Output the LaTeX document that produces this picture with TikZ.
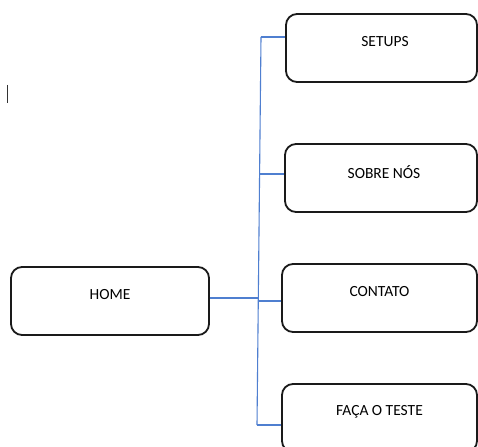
\documentclass[tikz,border=0pt]{standalone}
\usepackage{fontspec}
\setmainfont{Carlito}
\definecolor{linkblue}{HTML}{4F7FD0}
\definecolor{boxline}{HTML}{1A1A1A}
\begin{document}
\begin{tikzpicture}[x=1pt,y=-1pt,
  menubox/.style={draw=boxline,line width=1.8pt,rounded corners=11pt,inner sep=0pt,
    minimum height=68pt},
  label/.style={font=\fontsize{15.5}{18}\selectfont,inner sep=0pt,anchor=center},
  link/.style={draw=linkblue,line width=1.1pt}]
\useasboundingbox (0,0) rectangle (478,446);
\clip (0,0) rectangle (478,446);
\fill[white] (0,0) rectangle (478,446);

% pages
\node[menubox,minimum width=198pt] (home) at (110,301) {};
\node[menubox,minimum width=191pt] (setups) at (381.5,48) {};
\node[menubox,minimum width=192pt] (sobre) at (381,178) {};
\node[menubox,minimum width=195pt] (contato) at (379.5,298) {};
\node[menubox,minimum width=195pt] (teste) at (379.5,418) {};

% captions, set a little above centre
\node[label] (homet) at ([yshift=6pt]home.center) {HOME};
\node[label] (setupst) at ([xshift=3.5pt,yshift=6pt]setups.center) {SETUPS};
\node[label] (sobret) at ([xshift=3pt,yshift=6pt]sobre.center) {SOBRE NÓS};
\node[label] (contatot) at ([yshift=6pt]contato.center) {CONTATO};
\node[label] (testet) at ([yshift=6pt]teste.center) {FAÇA O TESTE};

% tree of links
\coordinate (trunktop) at (261,37);
\coordinate (trunkbot) at (257,425);
\coordinate (jsobre) at (259.2,174);
\coordinate (jhome) at (258.2,298);
\coordinate (jcontato) at (258.1,301);
\draw[link] (trunktop) -- (trunkbot);
\draw[link] (trunktop) -- (trunktop -| setups.west);
\draw[link] (jsobre) -- (jsobre -| sobre.west);
\draw[link] (home.east |- jhome) -- (jhome);
\draw[link] (jcontato) -- (jcontato -| contato.west);
\draw[link] (trunkbot) -- (trunkbot -| teste.west);

% text cursor
\coordinate (cursortop) at (7,85);
\coordinate (cursorbot) at (7,103);
\draw[line width=1pt,black!80] (cursortop) -- (cursorbot);
\end{tikzpicture}
\end{document}
